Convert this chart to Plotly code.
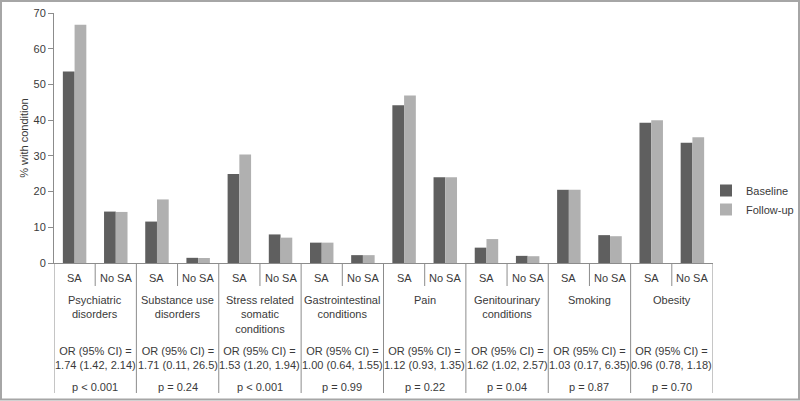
import plotly.graph_objects as go

groups = ["Psychiatric<br>disorders", "Substance use<br>disorders", "Stress related<br>somatic<br>conditions",
          "Gastrointestinal<br>conditions", "Pain", "Genitourinary<br>conditions", "Smoking", "Obesity"]
sub_labels = ["SA", "No SA"]
baseline = [53.6, 14.4, 11.6, 1.45, 24.9, 8.0, 5.7, 2.2, 44.2, 24.0, 4.3, 2.0, 20.5, 7.8, 39.3, 33.7]
followup = [66.7, 14.3, 17.8, 1.4, 30.4, 7.1, 5.7, 2.2, 46.9, 24.0, 6.7, 1.9, 20.5, 7.5, 40.0, 35.2]
or_text = ["1.74 (1.42, 2.14)", "1.71 (0.11, 26.5)", "1.53 (1.20, 1.94)", "1.00 (0.64, 1.55)",
           "1.12 (0.93, 1.35)", "1.62 (1.02, 2.57)", "1.03 (0.17, 6.35)", "0.96 (0.78, 1.18)"]
p_text = ["p < 0.001", "p = 0.24", "p < 0.001", "p = 0.99", "p = 0.22", "p = 0.04", "p = 0.87", "p = 0.70"]
y_ticks = [0, 10, 20, 30, 40, 50, 60, 70]

FONT = "Liberation Sans"
TXT = "#3a3a3a"
LINE = "#8c8c8c"

n = len(baseline)
xs = list(range(n))

fig = go.Figure()
fig.add_trace(go.Bar(x=xs, y=baseline, name="Baseline", marker=dict(color="#5f5f5f", line=dict(width=0))))
fig.add_trace(go.Bar(x=xs, y=followup, name="Follow-up", marker=dict(color="#b0b0b0", line=dict(width=0))))

W, H = 800, 401
ml, mr, mt, mb = 54, 87, 13, 138
pw, ph = W - ml - mr, H - mt - mb

def py(p):
    return (H - mb - p) / ph

def px(p):
    return (p - ml) / pw

annotations = []
shapes = []
for i in range(n):
    annotations.append(dict(x=i, y=py(278), xref="x", yref="paper", text=sub_labels[i % 2],
                            showarrow=False, font=dict(size=11, color=TXT, family=FONT),
                            xanchor="center", yanchor="middle"))
for g in range(len(groups)):
    c = 2 * g + 0.5
    annotations.append(dict(x=c, y=py(292), xref="x", yref="paper", text=groups[g],
                            showarrow=False, font=dict(size=11, color=TXT, family=FONT),
                            xanchor="center", yanchor="top", align="center"))
    annotations.append(dict(x=c, y=py(358), xref="x", yref="paper", text="OR (95% CI) =<br>" + or_text[g],
                            showarrow=False, font=dict(size=11, color=TXT, family=FONT),
                            xanchor="center", yanchor="middle", align="center"))
    annotations.append(dict(x=c, y=py(387), xref="x", yref="paper", text=p_text[g],
                            showarrow=False, font=dict(size=11, color=TXT, family=FONT),
                            xanchor="center", yanchor="middle"))
    shapes.append(dict(type="line", xref="x", yref="paper", x0=2 * g - 0.5, x1=2 * g - 0.5,
                       y0=0, y1=py(393), line=dict(color=LINE, width=1)))
    shapes.append(dict(type="line", xref="x", yref="paper", x0=2 * g + 0.5, x1=2 * g + 0.5,
                       y0=0, y1=py(286), line=dict(color=LINE, width=1)))
shapes.append(dict(type="line", xref="x", yref="paper", x0=n - 0.5, x1=n - 0.5,
                   y0=0, y1=py(393), line=dict(color=LINE, width=1)))
shapes.append(dict(type="rect", xref="paper", yref="paper", x0=px(1), x1=px(799), y0=py(399.5), y1=py(1),
                   line=dict(color="#a6a6a6", width=2), fillcolor="rgba(0,0,0,0)", layer="below"))

fig.update_layout(
    width=W, height=H, autosize=False,
    margin=dict(l=ml, r=mr, t=mt, b=mb, pad=0, autoexpand=False),
    paper_bgcolor="white", plot_bgcolor="white",
    barmode="group", bargap=0.43, bargroupgap=0,
    font=dict(family=FONT, size=11, color=TXT),
    showlegend=True,
    legend=dict(xref="container", yref="container", x=706 / W, y=1 - 200 / H,
                xanchor="left", yanchor="middle",
                font=dict(size=11, color=TXT, family=FONT), bgcolor="rgba(0,0,0,0)",
                itemwidth=30, tracegroupgap=0),
    xaxis=dict(range=[-0.5, n - 0.5], showticklabels=False, showgrid=False, zeroline=False,
               showline=True, linecolor=LINE, linewidth=1, ticks="", automargin=False),
    yaxis=dict(range=[0, 70], tickvals=y_ticks, showgrid=False, zeroline=False, automargin=False,
               showline=True, linecolor=LINE, linewidth=1, ticks="outside", ticklen=5,
               tickcolor=LINE, tickfont=dict(size=11, color=TXT, family=FONT),
               title=dict(text="% with condition", font=dict(size=11, color=TXT, family=FONT), standoff=2)),
    annotations=annotations,
    shapes=shapes,
)

fig.write_html("out.html", config={"displayModeBar": False},
               post_script="document.body.style.margin='0';document.body.style.overflow='hidden';")
